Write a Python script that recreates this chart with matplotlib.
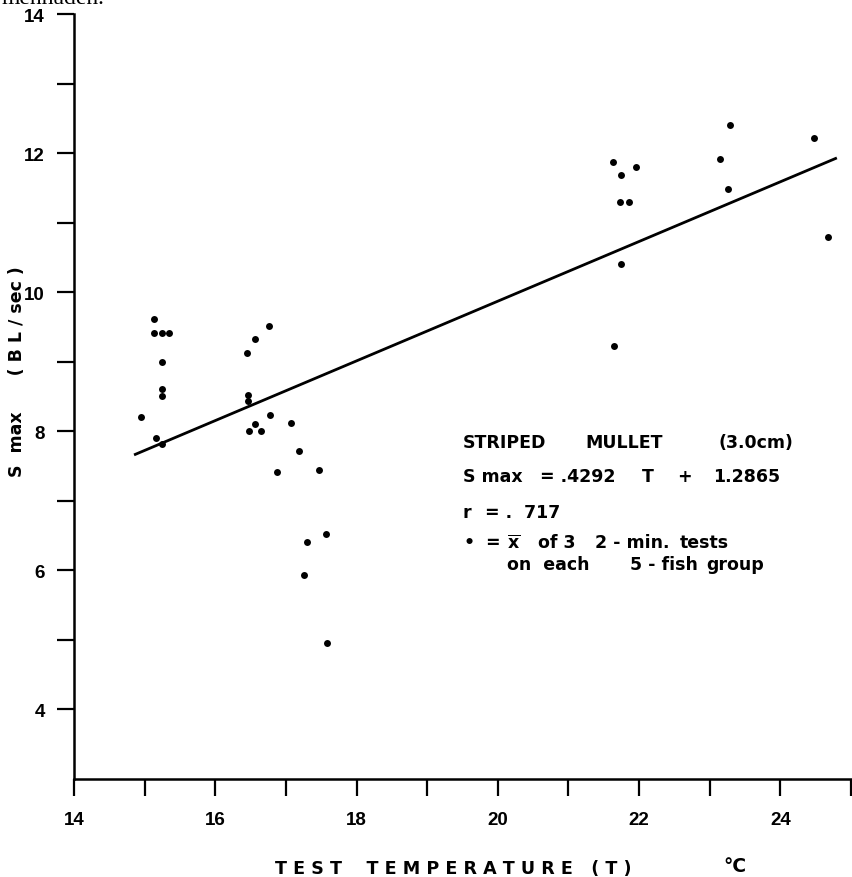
import matplotlib
matplotlib.use("Agg")
import matplotlib.pyplot as plt
import numpy as np

# Data
temp = [15.13, 15.13, 15.24, 15.34, 15.24, 15.24, 15.24, 14.95, 15.16, 15.25,
        16.76, 16.56, 16.45, 16.46, 16.46, 16.77, 16.56, 16.48, 16.65, 17.07,
        17.18, 16.88, 17.47, 17.57, 17.30, 17.26, 17.58,
        21.63, 21.75, 21.96, 21.73, 21.86, 21.75, 21.65,
        23.29, 23.15, 23.26, 24.47, 24.67]
smax = [9.61, 9.41, 9.41, 9.41, 9.00, 8.61, 8.51, 8.20, 7.91, 7.81,
        9.51, 9.32, 9.13, 8.52, 8.43, 8.23, 8.11, 8.01, 8.01, 8.12,
        7.71, 7.42, 7.45, 6.52, 6.41, 5.93, 4.95,
        11.87, 11.69, 11.80, 11.29, 11.29, 10.41, 9.23,
        12.41, 11.91, 11.49, 12.21, 10.79]
slope = 0.4292
intercept = 1.2865
line_range = [14.85, 24.8]
x_ticks = list(range(14, 26))
y_ticks = list(range(4, 15))
x_labels = ["14", "", "16", "", "18", "", "20", "", "22", "", "24", ""]
y_labels = ["4", "", "6", "", "8", "", "10", "", "12", "", "14"]

W, H = 852, 878
plt.rcParams['font.family'] = ['Liberation Sans', 'DejaVu Sans']
fig = plt.figure(figsize=(W/100, H/100), dpi=100)
L, R, T, B = 74, 851, 15, 780
ax = fig.add_axes([L/W, 1-B/H, (R-L)/W, (B-T)/H])

ax.plot(temp, smax, 'o', color='black', markersize=5, markeredgewidth=0)
lx = np.array(line_range)
ax.plot(lx, slope*lx + intercept, color='black', linewidth=2.0, solid_capstyle='butt')

ax.set_xlim(14, 25)
ax.set_ylim(3, 14)
for s in ['top', 'right']:
    ax.spines[s].set_visible(False)
for s in ['left', 'bottom']:
    ax.spines[s].set_linewidth(1.8)
ax.set_xticks(x_ticks)
ax.set_xticklabels(x_labels, fontsize=13.5, fontweight='bold')
ax.set_yticks(y_ticks)
ax.set_yticklabels(y_labels, fontsize=13.5, fontweight='bold')
ax.tick_params(axis='x', direction='out', length=12, width=1.6, pad=11)
ax.tick_params(axis='y', direction='out', length=12, width=1.6, pad=9)

def fx(px):
    return px / W

def fy(py):
    return 1 - py / H

kw = dict(transform=fig.transFigure, fontweight='bold', fontsize=12.5, color='black',
          family='DejaVu Sans', va='center', ha='left')

# legend block: words placed at the positions seen in the reference
legend_lines = [
    (443, [(463, "STRIPED"), (585, "MULLET"), (718, "(3.0cm)")]),
    (477, [(463, "S max"), (540, "= .4292"), (642, "T"), (677, "+"), (713, "1.2865")]),
    (513, [(463, "r"), (485, "= .  717")]),
    (543, [(463, "•"), (485, "="), (507, r"$\overline{\mathbf{x}}$"), (538, "of 3"),
           (595, "2 - min."), (680, "tests")]),
    (565, [(507, "on  each"), (630, "5 - fish"), (706, "group")]),
]
for yy, words in legend_lines:
    for xx, w in words:
        fig.text(fx(xx), fy(yy), w, **kw)

fig.text(fx(275), fy(869), "T E S T    T E M P E R A T U R E   ( T )", transform=fig.transFigure,
         fontweight='bold', fontsize=12.6, family='DejaVu Sans', va='center', ha='left')
fig.text(fx(735), fy(867), "°C", transform=fig.transFigure,
         fontweight='bold', fontsize=13.5, family='DejaVu Sans', va='center', ha='center')
fig.text(fx(17), fy(372), "S  max      ( B L / sec )", va='center', ha='center', rotation=90,
         transform=fig.transFigure, fontweight='bold', fontsize=12.5, family='DejaVu Sans')

fig.text(fx(2), fy(4), "menhaden.", va='baseline', ha='left', transform=fig.transFigure,
         family='Liberation Serif', fontsize=17)

fig.savefig("out.png", dpi=100)
